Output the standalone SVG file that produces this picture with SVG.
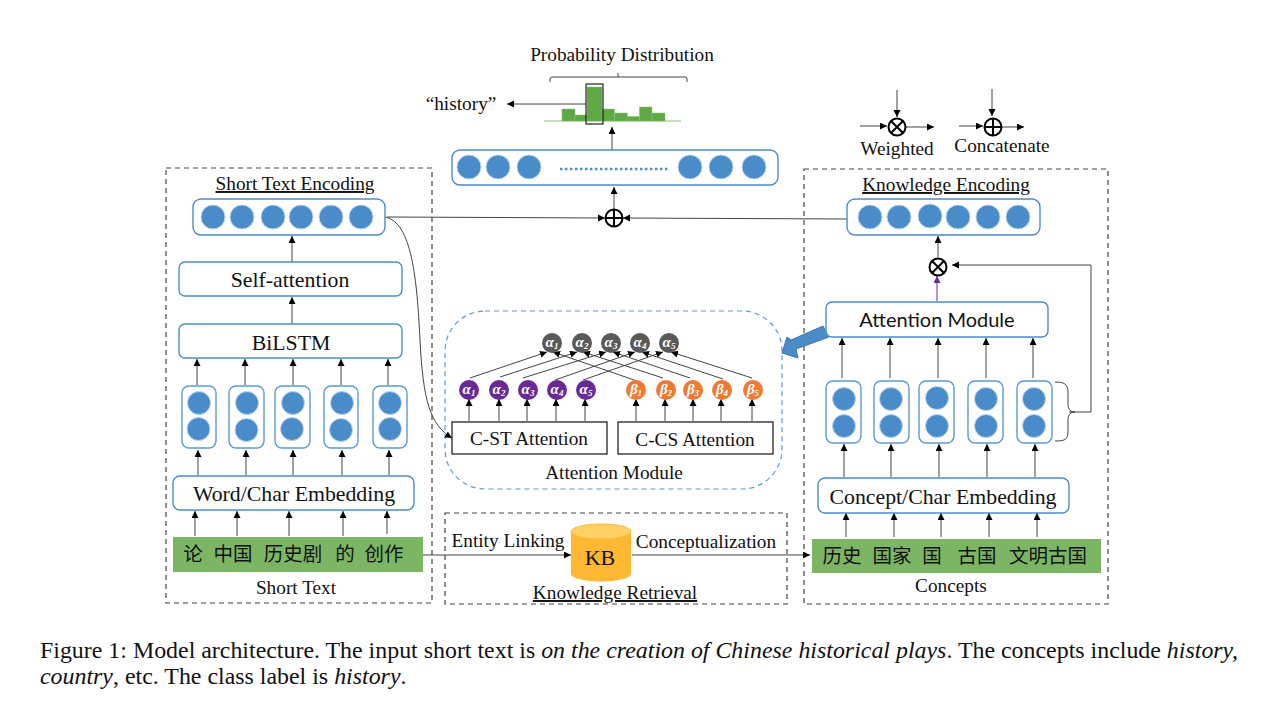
<svg xmlns="http://www.w3.org/2000/svg" width="1268" height="720" viewBox="0 0 1268 720">
<style>
text{font-family:"Liberation Serif","Noto Sans CJK SC",serif;fill:#111;text-anchor:middle}
.t18{font-size:19.300px}.t19{font-size:21.800px}.u{text-decoration:underline}
.sans{font-family:Lato,"Liberation Sans",sans-serif;font-size:20px}
.cjk{font-family:"Noto Sans CJK SC",sans-serif;font-size:19.500px;font-weight:400}
.cap{font-size:23.900px;text-anchor:start}
.box{fill:#fff;stroke:#4a8dcb;stroke-width:1.400}
.pillar{fill:#fff;stroke:#5b9bd5;stroke-width:1.400}
.dash{fill:none;stroke:#444;stroke-width:1.200;stroke-dasharray:5 4}
.blue{fill:#4a8cc9;stroke:#bcd5eb;stroke-width:1}
.green{fill:#7cb564}
.ln{fill:none;stroke:#444;stroke-width:1;marker-end:url(#a)}
.pl{fill:none;stroke:#444;stroke-width:1}
.sym{fill:none;stroke:#000;stroke-width:2}
.plain{fill:#fff;stroke:#111;stroke-width:1.200}
.g{fill:#595959}.p{fill:#6a2a96}.o{fill:#ef7a32}
.gr{font-family:"Liberation Serif",serif;font-style:italic;font-weight:700;font-size:15px;fill:#fff}
.gr tspan{font-size:9px}
.bar{fill:#5fa843;stroke:#8cc274;stroke-width:.5}
</style>
<defs>
<marker id="a" markerUnits="userSpaceOnUse" markerWidth="8" markerHeight="8" refX="7" refY="3.500" orient="auto"><path d="M0 0L7 3.500L0 7z" fill="#000"/></marker>
<marker id="ap" markerUnits="userSpaceOnUse" markerWidth="8" markerHeight="8" refX="7" refY="3.500" orient="auto"><path d="M0 0L7 3.500L0 7z" fill="#6a2a96"/></marker>
<g id="otimes"><circle r="8.500" class="sym"/><path class="sym" d="M-6-6L6 6M-6 6L6-6"/></g>
<g id="oplus"><circle r="8.500" class="sym"/><path class="sym" d="M-8.500 0H8.500M0-8.500V8.500"/></g>
</defs>

<g id="panels">
<rect class="dash" x="166" y="168" width="266" height="435"/>
<rect class="dash" x="804" y="169" width="304" height="435"/>
<rect class="dash" x="445" y="513" width="342" height="91"/>
<rect x="445" y="311" width="337" height="178" rx="40" fill="none" stroke="#5b9bd5" stroke-width="1.200" stroke-dasharray="5 4"/>
</g>

<g id="connectors">
<path class="ln" d="M586 104H507"/>
<path class="ln" d="M612 150V127"/>
<path class="ln" d="M614 209V187"/>
<path class="ln" d="M387 217L605 218"/>
<path class="ln" d="M847 219L623 218"/>
<path class="ln" d="M385 217C412 222 417 280 420 340C423 400 430 425 452 438"/>
<path class="ln" d="M292 262V236"/>
<path class="ln" d="M292 324V297"/>
<path class="ln" d="M197 385V359"/><path class="ln" d="M245 385V359"/><path class="ln" d="M293 385V359"/><path class="ln" d="M341 385V359"/><path class="ln" d="M388 385V359"/>
<path class="ln" d="M198 475V450"/><path class="ln" d="M246 475V450"/><path class="ln" d="M293 475V450"/><path class="ln" d="M342 475V450"/><path class="ln" d="M389 475V450"/>
<path class="ln" d="M195 536V511"/><path class="ln" d="M237 536V511"/><path class="ln" d="M289 536V511"/><path class="ln" d="M343 536V511"/><path class="ln" d="M387 534V511"/>
<path class="ln" d="M423 555H571"/>
<path class="ln" d="M632 555H810"/>
<path class="ln" d="M938 257V236"/>
<path d="M937 301V276" fill="none" stroke="#6a2a96" stroke-width="1" marker-end="url(#ap)"/>
<path class="ln" d="M1069 412H1091V265H952"/>
<path class="pl" d="M1055 382C1064 382 1068 384 1068 392V404C1068 410 1071 412 1075 412C1071 412 1068 414 1068 420V432C1068 440 1064 441 1055 441"/>
<path class="ln" d="M842 378V338"/><path class="ln" d="M890 378V338"/><path class="ln" d="M938 378V338"/><path class="ln" d="M986 378V338"/><path class="ln" d="M1033 378V338"/>
<path class="ln" d="M844 477V444"/><path class="ln" d="M891 477V444"/><path class="ln" d="M939 477V444"/><path class="ln" d="M987 477V444"/><path class="ln" d="M1035 477V444"/>
<path class="ln" d="M846 537V513"/><path class="ln" d="M894 537V513"/><path class="ln" d="M941 537V513"/><path class="ln" d="M989 537V513"/><path class="ln" d="M1037 537V513"/>
<path class="ln" d="M897 90V117"/><path class="ln" d="M860 126H887"/><path class="ln" d="M906 127H934"/>
<path class="ln" d="M992 89V116"/><path class="ln" d="M959 126H983"/><path class="ln" d="M1002 127H1024"/>
<path class="ln" d="M469 421V399"/><path class="ln" d="M499 421V399"/><path class="ln" d="M527 421V399"/><path class="ln" d="M556 421V399"/><path class="ln" d="M585 421V399"/>
<path class="ln" d="M636 421V399"/><path class="ln" d="M665 421V399"/><path class="ln" d="M693 421V399"/><path class="ln" d="M721 421V399"/><path class="ln" d="M752 421V399"/>
<path class="ln" d="M470 378L547 352"/><path class="ln" d="M500 377L577 352"/><path class="ln" d="M523 378L606 352"/><path class="ln" d="M555 380L635 352"/><path class="ln" d="M583 380L663 352"/>
<path class="ln" d="M637 381L553 352"/><path class="ln" d="M663 378L583 352"/><path class="ln" d="M690 378L613 352"/><path class="ln" d="M723 379L642 352"/><path class="ln" d="M752 378L671 352"/>
</g>

<g id="prob-label"><text class="t18" x="622" y="61">Probability Distribution</text>
<path d="M550 82V79Q550 77 552 77H685Q687 77 687 79V82M618 77V73" fill="none" stroke="#444" stroke-width="1"/></g>
<g id="history-label"><text class="t18" x="461" y="110">“history”</text></g>
<g id="histogram">
<path d="M544 121H681" stroke="#8cc274" stroke-width="1"/>
<rect class="bar" x="562" y="109" width="13" height="12"/><rect class="bar" x="575" y="115" width="12" height="6"/><rect class="bar" x="587" y="87" width="15" height="34"/><rect class="bar" x="602" y="109" width="12.500" height="12"/><rect class="bar" x="614.500" y="113" width="13" height="8"/><rect class="bar" x="627" y="116.500" width="12.500" height="4.500"/><rect class="bar" x="639.500" y="107" width="12.500" height="14"/><rect class="bar" x="652" y="113" width="13" height="8"/>
<rect x="586" y="84" width="17" height="40" fill="none" stroke="#222" stroke-width="1.200"/>
</g>

<g id="merged-vector"><rect class="box" x="452" y="150" width="326" height="35" rx="8"/>
<circle class="blue" cx="469" cy="167" r="12"/><circle class="blue" cx="498" cy="167" r="12"/><circle class="blue" cx="529" cy="167" r="12"/><circle class="blue" cx="690" cy="167" r="12"/><circle class="blue" cx="721" cy="167" r="12"/><circle class="blue" cx="754" cy="167" r="12"/>
<path d="M560 169H669" stroke="#4a8cc9" stroke-width="2.400" stroke-dasharray="2.400 2.600"/></g>

<g id="concat"><use href="#oplus" x="614" y="218"/></g>
<g id="legend-weighted"><use href="#otimes" x="897" y="127"/><text class="t18" x="897" y="155">Weighted</text></g>
<g id="legend-concat"><use href="#oplus" x="993" y="127"/><text class="t18" x="1002" y="152">Concatenate</text></g>
<g id="weighted"><use href="#otimes" x="938" y="267"/></g>

<g id="short-text-encoding"><text class="t18 u" x="295" y="190">Short Text Encoding</text>
<rect class="box" x="193" y="199" width="192" height="36" rx="8"/>
<circle class="blue" cx="213" cy="217" r="12"/><circle class="blue" cx="242" cy="217" r="12"/><circle class="blue" cx="273" cy="217" r="12"/><circle class="blue" cx="301" cy="217" r="12"/><circle class="blue" cx="331" cy="217" r="12"/><circle class="blue" cx="361" cy="217" r="12"/></g>
<g id="self-attention"><rect class="box" x="179" y="262" width="223" height="34" rx="6"/><text class="t19" x="290" y="287">Self-attention</text></g>
<g id="bilstm"><rect class="box" x="179" y="324" width="223" height="34" rx="6"/><text class="t19" x="291" y="350">BiLSTM</text></g>
<g id="left-pillars">
<rect class="pillar" x="182" y="386" width="34" height="62" rx="7"/><rect class="pillar" x="229" y="386" width="35" height="62" rx="7"/><rect class="pillar" x="275" y="386" width="35" height="62" rx="7"/><rect class="pillar" x="324" y="386" width="34" height="62" rx="7"/><rect class="pillar" x="373" y="386" width="34" height="62" rx="7"/>
<circle class="blue" cx="199" cy="403" r="11.500"/><circle class="blue" cx="198.500" cy="429" r="11.500"/><circle class="blue" cx="247" cy="403" r="11.500"/><circle class="blue" cx="246.500" cy="430" r="11.500"/><circle class="blue" cx="293" cy="403" r="11.500"/><circle class="blue" cx="292" cy="429" r="11.500"/><circle class="blue" cx="342" cy="403" r="11.500"/><circle class="blue" cx="341" cy="430" r="11.500"/><circle class="blue" cx="390" cy="403" r="11.500"/><circle class="blue" cx="390" cy="429" r="11.500"/>
</g>
<g id="word-embedding"><rect class="box" x="173" y="476" width="241" height="34" rx="7"/><text class="t19" x="294" y="501">Word/Char Embedding</text></g>
<g id="short-text"><rect class="green" x="173" y="537" width="250" height="35"/>
<text class="cjk" x="193" y="561">论</text><text class="cjk" x="233" y="561">中国</text><text class="cjk" x="293" y="561">历史剧</text><text class="cjk" x="345" y="561">的</text><text class="cjk" x="384" y="561">创作</text>
<text class="t18" x="296" y="594">Short Text</text></g>

<g id="attention-panel">
<rect class="plain" x="452" y="422" width="155" height="32"/><text class="t18" x="529" y="445">C-ST Attention</text>
<rect class="plain" x="618" y="422" width="155" height="32"/><text class="t18" x="695" y="446">C-CS Attention</text>
<text class="t18" x="614" y="479">Attention Module</text>
</g>
<g id="alpha-grey">
<circle class="g" cx="552" cy="343" r="10"/><text class="gr" x="552" y="347">α<tspan dy="2">1</tspan></text>
<circle class="g" cx="582" cy="343" r="10"/><text class="gr" x="582" y="347">α<tspan dy="2">2</tspan></text>
<circle class="g" cx="611" cy="343" r="10"/><text class="gr" x="611" y="347">α<tspan dy="2">3</tspan></text>
<circle class="g" cx="640" cy="343" r="10"/><text class="gr" x="640" y="347">α<tspan dy="2">4</tspan></text>
<circle class="g" cx="669" cy="343" r="10"/><text class="gr" x="669" y="347">α<tspan dy="2">5</tspan></text>
</g>
<g id="alpha-purple">
<circle class="p" cx="469" cy="390" r="10"/><text class="gr" x="469" y="394">α<tspan dy="2">1</tspan></text>
<circle class="p" cx="499" cy="390" r="10"/><text class="gr" x="499" y="394">α<tspan dy="2">2</tspan></text>
<circle class="p" cx="528" cy="390" r="10"/><text class="gr" x="528" y="394">α<tspan dy="2">3</tspan></text>
<circle class="p" cx="557" cy="390" r="10"/><text class="gr" x="557" y="394">α<tspan dy="2">4</tspan></text>
<circle class="p" cx="586" cy="390" r="10"/><text class="gr" x="586" y="394">α<tspan dy="2">5</tspan></text>
</g>
<g id="beta-orange">
<circle class="o" cx="636" cy="390" r="10"/><text class="gr" x="636" y="394">β<tspan dy="2">1</tspan></text>
<circle class="o" cx="666" cy="390" r="10"/><text class="gr" x="666" y="394">β<tspan dy="2">2</tspan></text>
<circle class="o" cx="693" cy="390" r="10"/><text class="gr" x="693" y="394">β<tspan dy="2">3</tspan></text>
<circle class="o" cx="722" cy="390" r="10"/><text class="gr" x="722" y="394">β<tspan dy="2">4</tspan></text>
<circle class="o" cx="753" cy="390" r="10"/><text class="gr" x="753" y="394">β<tspan dy="2">5</tspan></text>
</g>
<g id="block-arrow"><path d="M782 353L787 337L791 340L823 326L829 337L796 349L798 358Z" fill="#4a8bc8" stroke="#3d77ac" stroke-width="1"/></g>

<g id="kb">
<path d="M571 531.500V574C571 578 585 581.500 601 581.500S631 578 631 574V531.500Z" fill="#ffb833"/>
<ellipse cx="601" cy="531.500" rx="30" ry="7.500" fill="#ffd166" stroke="#ffb833" stroke-width="1"/>
<text x="600" y="565" font-size="22">KB</text>
</g>
<g id="retrieval-labels">
<text class="t18" x="508" y="547">Entity Linking</text>
<text class="t18" x="706" y="548">Conceptualization</text>
<text class="t18 u" x="615" y="599">Knowledge Retrieval</text>
</g>

<g id="knowledge-encoding"><text class="t18 u" x="946" y="191">Knowledge Encoding</text>
<rect class="box" x="847" y="199" width="193" height="36" rx="8"/>
<circle class="blue" cx="870" cy="217" r="12"/><circle class="blue" cx="899" cy="217" r="12"/><circle class="blue" cx="930" cy="216" r="12"/><circle class="blue" cx="958" cy="217" r="12"/><circle class="blue" cx="988" cy="217" r="12"/><circle class="blue" cx="1018" cy="217" r="12"/></g>
<g id="attention-module"><rect class="box" x="826" y="302" width="222" height="35" rx="6"/><text class="sans" x="937" y="327">Attention Module</text></g>
<g id="right-pillars">
<rect class="pillar" x="826" y="381" width="35" height="62" rx="7"/><rect class="pillar" x="874" y="381" width="35" height="62" rx="7"/><rect class="pillar" x="919" y="381" width="35" height="62" rx="7"/><rect class="pillar" x="968" y="381" width="35" height="62" rx="7"/><rect class="pillar" x="1017" y="381" width="35" height="62" rx="7"/>
<circle class="blue" cx="844" cy="399" r="11.500"/><circle class="blue" cx="844" cy="426" r="11.500"/><circle class="blue" cx="891" cy="399" r="11.500"/><circle class="blue" cx="891" cy="426" r="11.500"/><circle class="blue" cx="937" cy="398" r="11.500"/><circle class="blue" cx="937" cy="426" r="11.500"/><circle class="blue" cx="986" cy="399" r="11.500"/><circle class="blue" cx="986" cy="426" r="11.500"/><circle class="blue" cx="1034" cy="399" r="11.500"/><circle class="blue" cx="1034" cy="426" r="11.500"/>
</g>
<g id="concept-embedding"><rect class="box" x="818" y="478" width="251" height="35" rx="7"/><text class="t19" x="943" y="504">Concept/Char Embedding</text></g>
<g id="concepts"><rect class="green" x="812" y="539" width="289" height="34"/>
<text class="cjk" x="842" y="563">历史</text><text class="cjk" x="892" y="563">国家</text><text class="cjk" x="932" y="563">国</text><text class="cjk" x="977" y="563">古国</text><text class="cjk" x="1048" y="563">文明古国</text>
<text class="t18" x="951" y="592">Concepts</text></g>

<g id="caption">
<text class="cap" x="40" y="658">Figure 1: Model architecture. The input short text is <tspan font-style="italic">on the creation of Chinese historical plays</tspan>. The concepts include <tspan font-style="italic">history,</tspan></text>
<text class="cap" x="40" y="684"><tspan font-style="italic">country</tspan>, etc. The class label is <tspan font-style="italic">history</tspan>.</text>
</g>
</svg>
